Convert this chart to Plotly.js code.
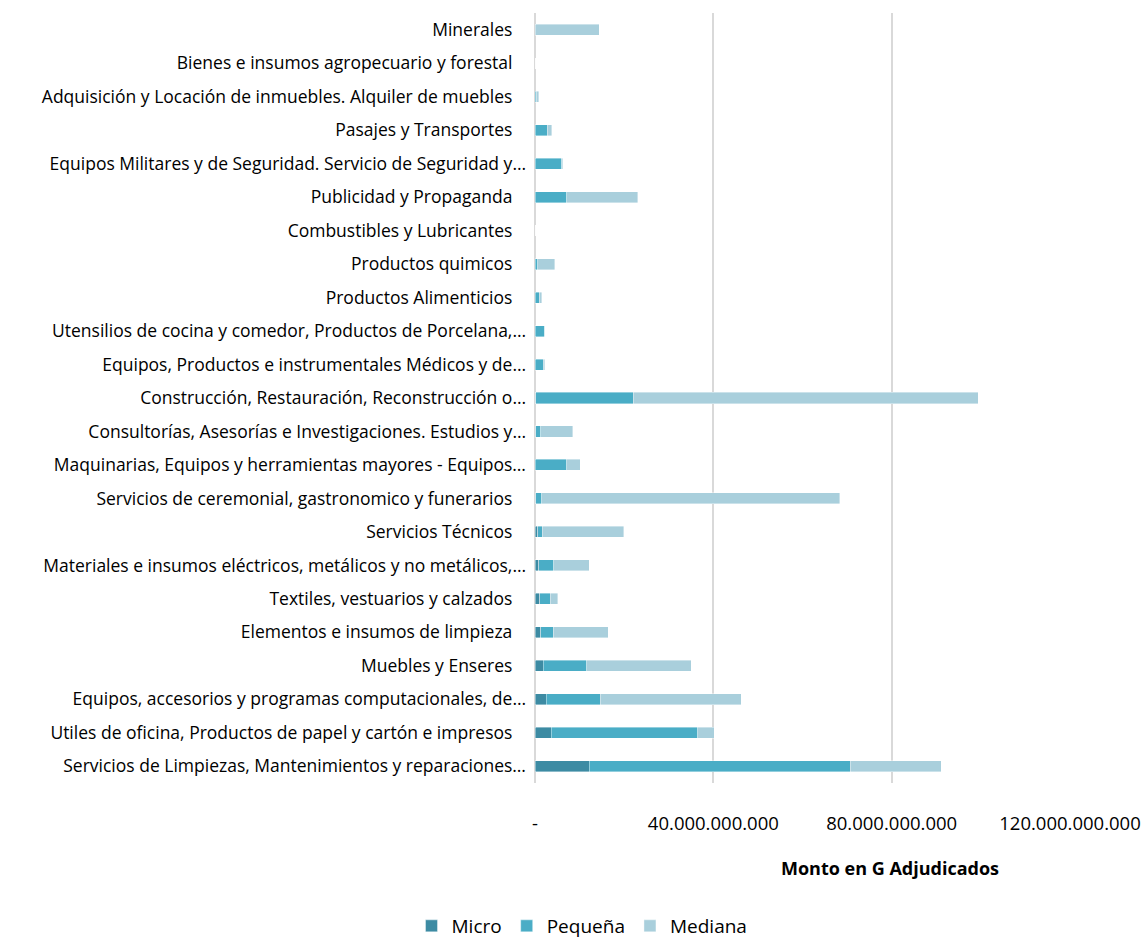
<!DOCTYPE html>
<html>
<head>
<meta charset="utf-8">
<script src="https://cdn.plot.ly/plotly-3.0.1.min.js"></script>
<style>html,body{margin:0;padding:0;background:#fff;}#chart{width:1147px;height:940px;}</style>
</head>
<body>
<div id="chart"></div>
<script>
// Categories, bottom to top as drawn
var categories = [
  "Servicios de Limpiezas, Mantenimientos y reparaciones…",
  "Utiles de oficina, Productos de papel y cartón e impresos",
  "Equipos, accesorios y programas computacionales, de…",
  "Muebles y Enseres",
  "Elementos e insumos de limpieza",
  "Textiles, vestuarios y calzados",
  "Materiales e insumos eléctricos, metálicos y no metálicos,…",
  "Servicios Técnicos",
  "Servicios de ceremonial, gastronomico y funerarios",
  "Maquinarias, Equipos y herramientas mayores - Equipos…",
  "Consultorías, Asesorías e Investigaciones. Estudios y…",
  "Construcción, Restauración, Reconstrucción o…",
  "Equipos, Productos e instrumentales Médicos y de…",
  "Utensilios de cocina y comedor, Productos de Porcelana,…",
  "Productos Alimenticios",
  "Productos quimicos",
  "Combustibles y Lubricantes",
  "Publicidad y Propaganda",
  "Equipos Militares y de Seguridad. Servicio de Seguridad y…",
  "Pasajes y Transportes",
  "Adquisición y Locación de inmuebles. Alquiler de muebles",
  "Bienes e insumos agropecuario y forestal",
  "Minerales"
];
// Values in guaraníes
var micro = [12.2e9, 3.6e9, 2.5e9, 1.9e9, 1.3e9, 1.1e9, 0.8e9, 0.6e9, 0.2e9, 0.1e9, 0.2e9, 0.2e9, 0.1e9, 0.1e9, 0.1e9, 0.1e9, 0, 0.1e9, 0.1e9, 0.1e9, 0.05e9, 0, 0];
var pequena = [58.5e9, 32.9e9, 12.1e9, 9.7e9, 2.8e9, 2.3e9, 3.45e9, 1.0e9, 1.3e9, 7.0e9, 1.1e9, 21.8e9, 1.7e9, 2.1e9, 0.9e9, 0.5e9, 0, 7.0e9, 5.9e9, 2.6e9, 0.2e9, 0, 0];
var mediana = [20.4e9, 3.7e9, 31.7e9, 23.5e9, 12.3e9, 1.7e9, 7.9e9, 18.3e9, 66.8e9, 3.0e9, 7.2e9, 77.4e9, 0.4e9, 0.0e9, 0.5e9, 3.8e9, 0, 16.0e9, 0.2e9, 1.0e9, 0.55e9, 0, 14.4e9];
var tickVals = [0, 40e9, 80e9, 120e9];
var tickText = ["-", "40.000.000.000", "80.000.000.000", "120.000.000.000"];
var seriesNames = ["Micro", "Pequeña", "Mediana"];
var colors = ["#3d8ba3", "#4aadc6", "#a9cfdc"];

var labels = categories.map(function(c){ return c.slice(-1) === "…" ? c : c + "\u00a0\u00a0\u00a0"; });
var data = [micro, pequena, mediana].map(function(v, i){
  return {
    type: "bar", orientation: "h", name: seriesNames[i],
    x: v, y: labels,
    marker: {color: colors[i], line: {color: "rgba(255,255,255,0.5)", width: 0.8}},
    hoverinfo: "x+name"
  };
});

var font = "'Open Sans', Lato, sans-serif";
var layout = {
  width: 1147, height: 940,
  margin: {l: 535, r: 77, t: 13, b: 157},
  barmode: "stack",
  bargap: 0.67,
  paper_bgcolor: "#fff", plot_bgcolor: "#fff",
  font: {family: font, size: 17, color: "#000"},
  showlegend: true,
  legend: {orientation: "h", xref: "container", yref: "container",
           x: 582 / 1147, xanchor: "center", y: (940 - 926) / 940, yanchor: "middle",
           font: {family: font, size: 19, color: "#000"}, traceorder: "normal", itemwidth: 30},
  xaxis: {
    range: [0, 120e9], tickvals: tickVals, ticktext: tickText,
    showgrid: true, gridcolor: "#d9d9d9", gridwidth: 1.5,
    zeroline: true, zerolinecolor: "#d9d9d9", zerolinewidth: 1.5,
    showline: false, ticks: "", ticklabelstandoff: 27, automargin: false,
    tickfont: {family: font, size: 18.5, color: "#000"}, fixedrange: true
  },
  yaxis: {
    type: "category", categoryorder: "array", categoryarray: labels,
    showgrid: false, zeroline: false, showline: false, ticks: "",
    ticklabelstandoff: 8,
    tickfont: {family: font, size: 17.5, color: "#000"}, automargin: false, fixedrange: true
  },
  annotations: [{
    text: "<b>Monto en G Adjudicados</b>", xref: "paper", yref: "paper",
    x: (890 - 535) / 535, y: -0.110, xanchor: "center", yanchor: "middle",
    showarrow: false, font: {family: font, size: 18, color: "#000"}
  }]
};
Plotly.newPlot("chart", data, layout, {displayModeBar: false});
</script>
</body>
</html>
